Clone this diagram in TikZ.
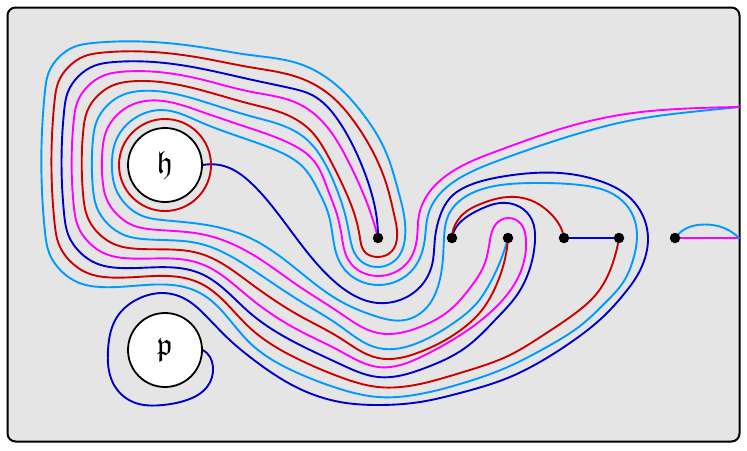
\documentclass[tikz,border=0pt]{standalone}
\usepackage{amssymb}
\usetikzlibrary{hobby}
\definecolor{cLB}{RGB}{0,153,255}
\definecolor{cRD}{RGB}{204,0,0}
\definecolor{cDB}{RGB}{0,0,204}
\definecolor{cMG}{RGB}{255,0,255}
\pgfdeclarelayer{framelayer}\pgfdeclarelayer{curvelayer}
\pgfsetlayers{framelayer,curvelayer,main}
\newcommand\LoopF[1]{(L#1a) (L#1b) (L#1c) (L#1d) (L#1e) (L#1f) (L#1g) (L#1h) (L#1i) (L#1j) (L#1k) (L#1l) (L#1m) (L#1n)}
\newcommand\LoopR[1]{(L#1n) (L#1m) (L#1l) (L#1k) (L#1j) (L#1i) (L#1h) (L#1g) (L#1f) (L#1e) (L#1d) (L#1c) (L#1b) (L#1a)}
\begin{document}
\begin{tikzpicture}[x=1pt,y=-1pt,
  curve/.style={line width=1.9pt, line cap=round, line join=round},
  strLB/.style={curve, draw=cLB},
  strRD/.style={curve, draw=cRD},
  strDB/.style={curve, draw=cDB},
  strMG/.style={curve, draw=cMG},
  hole/.style={circle, draw=black, line width=1.8pt, fill=white, minimum size=74pt, inner sep=0pt},
  dotnode/.style={circle, fill=black, minimum size=10.5pt, inner sep=0pt}]
\useasboundingbox (0,0) rectangle (747,450);
\begin{pgfonlayer}{framelayer}
\draw[line width=2pt, fill=black!10, rounded corners=8pt] (7.5,7.5) rectangle (739.5,441.5);
\end{pgfonlayer}
\node[hole] (H) at (165,165) {\scalebox{3.2}{$\mathfrak{h}$}};
\node[hole] (P) at (165,350) {\scalebox{3.2}{$\mathfrak{p}$}};
\node[dotnode] (d1) at (378,238) {};
\node[dotnode] (d2) at (452,238) {};
\node[dotnode] (d3) at (508,238) {};
\node[dotnode] (d4) at (564,238) {};
\node[dotnode] (d5) at (619,238) {};
\node[dotnode] (d6) at (675,238) {};
\coordinate (E1) at (739,107);
\coordinate (E2) at (739,238);
\foreach \q in {0,...,7}{
  \pgfmathsetmacro\cXt{93+9.86*\q}
  \pgfmathsetmacro\cYt{91+9.86*\q}
  \pgfmathsetmacro\rTop{48+0.286*\q}
  \pgfmathsetmacro\cXb{100+8.86*\q}
  \pgfmathsetmacro\cYb{232-8.86*\q}
  \pgfmathsetmacro\rBot{55-0.714*\q}
  \coordinate (L\q a) at (250,{55+12.2*\q});
  \coordinate (L\q b) at (200,{47+10.7*\q});
  \coordinate (L\q c) at (\cXt,{\cYt-\rTop});
  \coordinate (L\q d) at ({\cXt-0.3827*\rTop},{\cYt-0.9239*\rTop});
  \coordinate (L\q e) at ({\cXt-0.7071*\rTop},{\cYt-0.7071*\rTop});
  \coordinate (L\q f) at ({\cXt-0.9239*\rTop},{\cYt-0.3827*\rTop});
  \coordinate (L\q g) at ({\cXt-\rTop},\cYt);
  \coordinate (L\q h) at ({\cXb-\rBot},\cYb);
  \coordinate (L\q i) at ({\cXb-0.9239*\rBot},{\cYb+0.3827*\rBot});
  \coordinate (L\q j) at ({\cXb-0.7071*\rBot},{\cYb+0.7071*\rBot});
  \coordinate (L\q k) at ({\cXb-0.3827*\rBot},{\cYb+0.9239*\rBot});
  \coordinate (L\q l) at (\cXb,{\cYb+\rBot});
  \coordinate (L\q m) at (200,{293-9.86*\q});
  \coordinate (L\q n) at (250,{343-15*\q});
}
\begin{pgfonlayer}{curvelayer}
% dark blue from h to p
\draw[strDB] plot[hobby] coordinates {(H.east) (227,167) (250,182) (267,200) (300,243) (335,282) (378,303) (400,300) (417,290) (432,265) (435,238) (440,216) (450,198) (470,185) (500,177) (533,173) (560,173) (600,181) (628,196) (643,216) (648,240) (645,258) (637,276) (624,294) (605,315) (577,338) (545,359) (510,377) (460,393) (420,402) (378,405) (340,402) (300,389) (250,357) (233,343) (207,317) (187,300) (163,293) (140,298) (117,317) (108,350) (113,383) (133,402) (163,405) (187,400) (207,387) (213,367) (210,357) (P.east)};
% red circle round h
\draw[strRD] (H.center) circle[radius=46pt];
% long light blue
\edef\tmp{\noexpand\draw[strLB] plot[hobby] coordinates {(E1) (700,111) (633,120) (567,137) (500,160) (465,175) (438,196) (428,215) (425,238) (414,268) (378,285) (342,266) (333,238) (329,216) (318,190) (303,167) (280,152) \LoopF{7} (300,272) (340,301) (375,316) (405,320) (428,306) (439,283) (443,258) (444,238) (449,214) (462,199) (490,187) (533,183) (580,185) (613,194) (630,210) (637,237) (633,260) (624,281) (607,301) (580,326) (545,348) (510,366) (460,384) (420,394) (378,397) (340,389) (300,374) \LoopR{0} (300,64) (335,84) (363,114) (385,150) (398,190) (404,215) (405,238) (399,256) (378,267) (357,257) (350,238) (346,218) (337,190) (323,160) (305,138) \LoopF{5} (300,301) (340,326) (378,348) (420,342) (455,322) (477,303) (489,285) (500,262) (d3)};}\tmp
% long magenta
\edef\tmp{\noexpand\draw[strMG] plot[hobby] coordinates {(E1) (700,108) (633,113) (567,127) (500,150) (450,173) (428,194) (419,215) (417,238) (408,262) (378,276) (349,261) (342,238) (338,218) (328,190) (314,161) (289,143) \LoopF{6} (300,287) (340,313) (378,333) (420,327) (450,310) (470,288) (485,263) (490,240) (496,224) (508,218) (521,224) (526,240) (523,265) (512,288) (495,308) (465,332) (425,355) (378,367) (340,351) (300,331) \LoopR{3} (300,104.5) (328,128) (345,155) (360,186) (371,214) (d1)};}\tmp
% long red
\edef\tmp{\noexpand\draw[strRD] plot[hobby] coordinates {(d3) (504,263) (495,288) (482,310) (458,332) (420,352) (378,358) (340,338) (300,316) \LoopR{4} (285,114) (311,131) (328,156) (344,188) (355,216) (360,238) (364,251) (378,257) (392,251) (397,238) (394,214) (387,186) (373,152) (353,120) (330,95) (300,78) \LoopF{1} (300,360) (340,377) (378,387) (420,384) (460,373) (510,355) (545,334) (577,312) (598,292) (609,273) (615,256) (d5)};}\tmp
% long dark blue
\edef\tmp{\noexpand\draw[strDB] plot[hobby] coordinates {(d1) (376,213) (369,185) (356,152) (338,120) (312,95) (290,88) \LoopF{2} (300,345) (340,364) (378,377) (425,368) (465,348) (497,318) (517,295) (530,268) (535,240) (532,220) (520,207) (500,203) (483,208) (468,216) (457,226) (d2)};}\tmp
% short pieces
\draw[strRD] plot[hobby] coordinates {(d2) (455,225) (467,211) (483,203) (500,198) (530,200) (550,213) (560,226) (d4)};
\draw[strDB] (d4) -- (d5);
\draw[strMG] (d6) -- (E2);
\draw[strLB] plot[hobby] coordinates {(d6) (687,228) (705,224.5) (724,228) (E2)};
\end{pgfonlayer}
\end{tikzpicture}
\end{document}
